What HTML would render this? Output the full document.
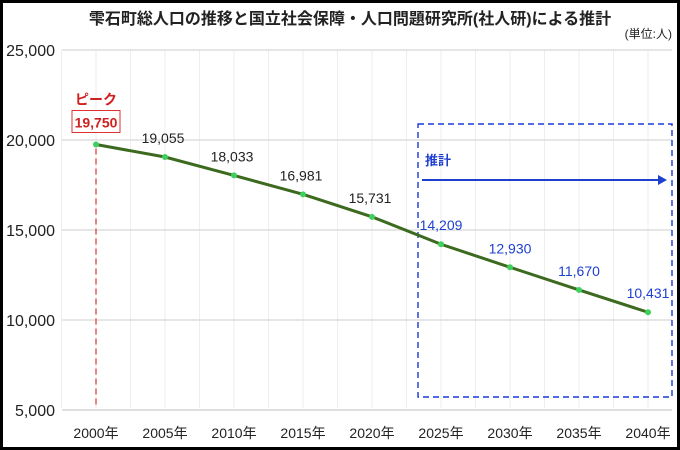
<!DOCTYPE html>
<html><head><meta charset="utf-8"><style>
body{margin:0;background:#fff}
svg{display:block;font-family:"Liberation Sans","Noto Sans CJK JP",sans-serif}
</style></head><body>
<svg width="680" height="450" viewBox="0 0 680 450">
<rect x="1.5" y="1.5" width="677" height="447" fill="#fff" stroke="#000" stroke-width="3"/>
<text x="350" y="24" text-anchor="middle" font-size="16" font-weight="bold" fill="#222">雫石町総人口の推移と国立社会保障・人口問題研究所(社人研)による推計</text>
<text x="672" y="38" text-anchor="end" font-size="12" fill="#222">(単位:人)</text>
<g id="grid"></g><g id="axes"></g>
<rect x="418" y="124" width="254" height="273" fill="none" stroke="#1a3ad8" stroke-width="1.4" stroke-dasharray="6,4"/>
<text x="425" y="165" font-size="13" font-weight="bold" fill="#1f3fd0">推計</text>
<line x1="422" y1="180" x2="660" y2="180" stroke="#1f3fd0" stroke-width="2"/>
<polygon points="667,180 658,175 658,185" fill="#1f3fd0"/>
<g id="marks"></g>
</svg>
<script>
const years=["2000年","2005年","2010年","2015年","2020年","2025年","2030年","2035年","2040年"];
const population=[19750,19055,18033,16981,15731,14209,12930,11670,10431];
const valueLabels=["19,750","19,055","18,033","16,981","15,731","14,209","12,930","11,670","10,431"];
const yTicks=[5000,10000,15000,20000,25000];
const yTickLabels=["5,000","10,000","15,000","20,000","25,000"];
const NS="http://www.w3.org/2000/svg";
const x=i=>96+i*69, y=v=>410-(v-5000)/5000*90;
function mk(p,t,a){const e=document.createElementNS(NS,t);for(const k in a)e.setAttribute(k,a[k]);p.appendChild(e);return e;}
const g=document.getElementById('grid'),ax=document.getElementById('axes'),m=document.getElementById('marks');
for(let i=0;i<=years.length*2-1;i++){const xx=61.5+i*34.5;const l=mk(g,'line',{x1:xx,x2:xx,y1:50,y2:408,stroke:'#eee'});

}
yTicks.forEach((t,i)=>{const l=mk(g,'line',{x1:62,x2:672,y1:y(t),y2:y(t),stroke:i==0?'#ccc':'#d8d8d8','stroke-width':1.2});


const tx=mk(ax,'text',{x:55,y:y(t)+6,'text-anchor':'end','font-size':16,fill:'#222'});tx.textContent=yTickLabels[i];

});
years.forEach((yr,i)=>{const tx=mk(ax,'text',{x:x(i),y:438,'text-anchor':'middle','font-size':14,fill:'#222'});tx.textContent=yr;

});
const dl=mk(m,'line',{x1:x(0),x2:x(0),y1:y(population[0])+4,y2:408,stroke:'#e03030','stroke-width':1.2,'stroke-dasharray':'6,4'});


const pl=mk(m,'polyline',{points:population.map((v,i)=>x(i)+','+y(v)).join(' '),fill:'none',stroke:'#3c6a1e','stroke-width':3});


population.forEach((v,i)=>{const c=mk(m,'circle',{cx:x(i),cy:y(v),r:3,fill:'#3fcf5f'});


if(i==0){const r=mk(m,'rect',{x:x(0)-24,y:y(v)-34,width:48,height:22,fill:'#fff',stroke:'#e03030'});


const t=mk(m,'text',{x:x(0),y:y(v)-17,'text-anchor':'middle','font-size':14,'font-weight':'bold',fill:'#d02020'});t.textContent=valueLabels[0];


const p=mk(m,'text',{x:x(0),y:y(v)-40,'text-anchor':'middle','font-size':14,'font-weight':'bold',fill:'#d02020'});p.textContent='ピーク';

}
else{const t=mk(m,'text',{x:x(i)+(i>=5?0:-2),y:y(v)-14,'text-anchor':'middle','font-size':14,fill:i>=5?'#1f3fd0':'#222'});t.textContent=valueLabels[i];

}});
</script>
</body></html>
